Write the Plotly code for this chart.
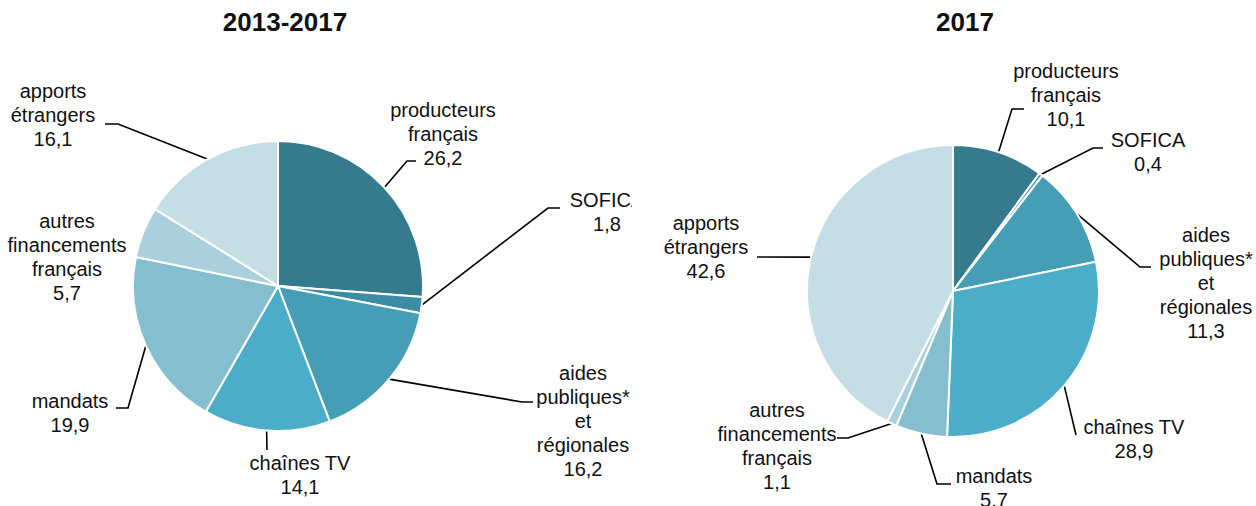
import math
import plotly.graph_objects as go

# ---------------- data ----------------
CATEGORIES = ["producteurs français", "SOFICA", "aides publiques* et régionales",
              "chaînes TV", "mandats", "autres financements français", "apports étrangers"]
LABEL_LINES = [["producteurs", "français"], ["SOFICA"], ["aides", "publiques*", "et", "régionales"],
               ["chaînes TV"], ["mandats"], ["autres", "financements", "français"], ["apports", "étrangers"]]
VALUES_2013_2017 = [26.2, 1.8, 16.2, 14.1, 19.9, 5.7, 16.1]
VALUES_2017 = [10.1, 0.4, 11.3, 28.9, 5.7, 1.1, 42.6]
TITLES = ["2013-2017", "2017"]

# ---------------- style / layout ----------------
OFF = 0
SCREEN_W, SCREEN_H = 1256, 506
W, H = SCREEN_W - OFF, SCREEN_H - OFF
COLORS = ["#357B8D", "#3C8DA4", "#469EB6", "#4BADC7", "#84BECF", "#A9D0DC", "#C5DDE5"]
FONT = "Liberation Sans, Arial, sans-serif"
FS = 20
LINE_H = 24

# all positions below are in screen pixels
PIES = [
    dict(cx=278, cy=286, r=145, clip=(OFF, 632), title_pos=(285, 24),
         labels=[  # (center x, first line y, elbow, end)
             (443, 112, (407, 161), (416, 161)),
             (607, 202, (548, 208), (560, 208)),
             (583, 375, (522, 402), (533, 402)),
             (300, 465, (267, 450), (267, 450)),
             (70, 403, (128, 408), (116, 408)),
             (67, 223, None, None),
             (53, 93, (118, 124), (105, 124)),
         ]),
    dict(cx=953, cy=291, r=146, clip=(632, SCREEN_W), title_pos=(965, 24),
         labels=[
             (1066, 73, (1012, 109), (1024, 109)),
             (1148, 142, (1093, 148), (1103, 148)),
             (1206, 237, (1140, 267), (1151, 267)),
             (1134, 429, (1076, 435), (1076, 435)),
             (994, 478, (937, 484), (951, 484)),
             (777, 412, (848, 438), (837, 438)),
             (706, 225, (757, 257), (757, 257)),
         ]),
]
SERIES = [VALUES_2013_2017, VALUES_2017]

fig = go.Figure()

for i, (cfg, vals) in enumerate(zip(PIES, SERIES)):
    cx, cy, r = cfg["cx"], cfg["cy"], cfg["r"]
    fig.add_trace(go.Pie(
        values=vals, labels=CATEGORIES, sort=False, direction="clockwise", rotation=0,
        marker=dict(colors=COLORS, line=dict(color="white", width=2)),
        textinfo="none", hoverinfo="label+value", showlegend=False,
        domain=dict(x=[(cx - r - OFF) / W, (cx + r - OFF) / W],
                    y=[1 - (cy + r - OFF) / H, 1 - (cy - r - OFF) / H]),
    ))

    xa = "x" if i == 0 else "x2"
    ya = "y" if i == 0 else "y2"
    total = sum(vals)
    cum = 0.0
    for k, v in enumerate(vals):
        mid = (cum + v / 2) / total * 2 * math.pi
        cum += v
        lx, ly, elbow, end = cfg["labels"][k]
        if elbow is not None:
            sx = cx + r * math.sin(mid)
            sy = cy - r * math.cos(mid)
            fig.add_trace(go.Scatter(
                x=[sx, elbow[0], end[0]], y=[sy, elbow[1], end[1]], mode="lines",
                line=dict(color="black", width=1.6), hoverinfo="skip", showlegend=False,
                xaxis=xa, yaxis=ya))
        lines = LABEL_LINES[k] + [f"{v:.1f}".replace(".", ",")]
        fig.add_trace(go.Scatter(
            x=[lx] * len(lines), y=[ly + j * LINE_H for j in range(len(lines))],
            text=lines, mode="text", textposition="middle center",
            textfont=dict(family=FONT, size=FS, color="#111111"),
            hoverinfo="skip", showlegend=False, cliponaxis=True, xaxis=xa, yaxis=ya))
    tx, ty = cfg["title_pos"]
    fig.add_trace(go.Scatter(
        x=[tx], y=[ty], text=[f"<b>{TITLES[i]}</b>"], mode="text", textposition="middle center",
        textfont=dict(family=FONT, size=26, color="#111111"),
        hoverinfo="skip", showlegend=False, xaxis=xa, yaxis=ya))

ax = dict(visible=False, showgrid=False, zeroline=False, fixedrange=True)
c0, c1 = PIES[0]["clip"], PIES[1]["clip"]
fig.update_layout(
    width=W, height=H, margin=dict(l=0, r=0, t=0, b=0),
    paper_bgcolor="white", plot_bgcolor="rgba(0,0,0,0)",
    xaxis=dict(ax, domain=[0, (c0[1] - OFF) / W], range=[c0[0], c0[1]]),
    yaxis=dict(ax, domain=[0, 1], range=[SCREEN_H, OFF]),
    xaxis2=dict(ax, domain=[(c1[0] - OFF) / W, 1], range=[c1[0], c1[1]], anchor="y2"),
    yaxis2=dict(ax, domain=[0, 1], range=[SCREEN_H, OFF], anchor="x2"),
)

fig.write_html(
    "out.html",
    config={"displayModeBar": False},
    post_script="document.body.style.margin='0';document.body.style.overflow='hidden';",
)
